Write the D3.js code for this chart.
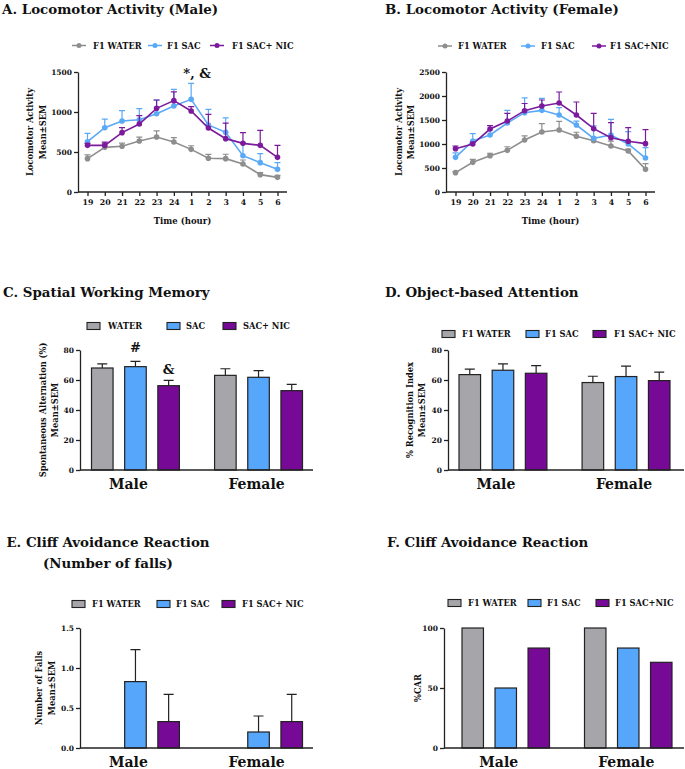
<!DOCTYPE html>
<html><head><meta charset="utf-8">
<script src="https://cdn.jsdelivr.net/npm/d3@7"></script>
<style>
body{margin:0;background:#fff}
svg{display:block}
text{font-family:"DejaVu Serif",serif;font-weight:bold;fill:#111}
</style>
</head><body>
<svg id="c" width="685" height="769"></svg>
<script>
// ---------------- DATA ----------------
const hours = ["19","20","21","22","23","24","1","2","3","4","5","6"];
const maleTicks = [0,500,1000,1500];
const femaleTicks = [0,500,1000,1500,2000,2500];

const maleWater    = [417,558,571,637,688,625,533,421,417,350,217,183];
const maleWaterErr = [46,50,40,50,75,55,45,50,55,50,25,25];
const maleSac      = [629,804,888,904,979,1075,1158,838,746,454,367,283];
const maleSacErr   = [104,108,129,137,170,208,200,196,180,160,112,83];
const maleNic      = [583,583,742,850,1046,1142,1013,800,667,608,583,433];
const maleNicErr   = [25,40,62,104,104,110,55,170,195,133,188,150];

const femWater     = [403,618,757,868,1083,1250,1292,1160,1069,958,854,472];
const femWaterErr  = [20,60,50,75,85,175,180,85,70,100,40,120];
const femSac       = [722,1062,1187,1437,1653,1701,1604,1396,1118,1187,1000,708];
const femSacErr    = [95,153,110,264,306,250,153,80,260,326,257,215];
const femNic       = [903,1000,1312,1479,1694,1792,1854,1604,1319,1132,1056,1007];
const femNicErr    = [55,40,70,160,150,125,229,271,320,312,285,292];

const sexes = ["Male","Female"];

const swmTicks = [0,20,40,60,80];
const swmWater = [68.0,63.1], swmWaterErr = [2.7,4.4];
const swmSac   = [68.9,61.8], swmSacErr   = [3.5,4.4];
const swmNic   = [56.2,52.9], swmNicErr   = [3.6,4.2];

const obaTicks = [0,20,40,60,80];
const obaWater = [63.6,58.3], obaWaterErr = [3.6,4.2];
const obaSac   = [66.5,62.3], obaSacErr   = [4.2,6.9];
const obaNic   = [64.5,59.6], obaNicErr   = [5.1,5.6];

const fallTicks = [0,0.5,1.0,1.5];
const fallWater = [0,0],       fallWaterErr = [0,0];
const fallSac   = [0.83,0.20], fallSacErr   = [0.40,0.20];
const fallNic   = [0.33,0.33], fallNicErr   = [0.34,0.34];

const carTicks = [0,50,100];
const carWater = [100,100];
const carSac   = [50,83.3];
const carNic   = [83.3,71.4];

// ---------------- STYLE ----------------
const LC = {water:"#8e8e8e", sac:"#5aa9f6", nic:"#7b1a9c"};
const BC = {water:"#a6a6aa", sac:"#56a6fb", nic:"#760a96"};
const INK = "#222";

const svg = d3.select("#c");

function title(lines, x, y, anchor){
  lines.forEach((t,i)=>{
    svg.append("text").attr("x",x).attr("y",y+i*21).attr("text-anchor",anchor||"start")
      .style("font-size","13.4px").text(t);
  });
}
function yTitle(lines, xs, cy){
  lines.forEach((t,i)=>{
    svg.append("text").attr("transform",`translate(${xs[i]},${cy}) rotate(-90)`)
      .attr("text-anchor","middle").attr("dy","0.35em").style("font-size","8.3px").text(t);
  });
}
function styleAxis(g){
  g.selectAll(".domain").attr("stroke",INK).attr("stroke-width",1.3);
  g.selectAll(".tick line").attr("stroke",INK).attr("stroke-width",1.3);
  g.selectAll(".tick text").style("font-family","DejaVu Serif").style("font-weight","bold")
    .style("font-size","7.5px").attr("fill","#111");
}
function lineLegend(items, y){
  items.forEach(it=>{
    svg.append("line").attr("x1",it.x).attr("x2",it.x+14).attr("y1",y).attr("y2",y)
      .attr("stroke",it.color).attr("stroke-width",1.5);
    svg.append("circle").attr("cx",it.x+7).attr("cy",y).attr("r",2.5).attr("fill",it.color);
    svg.append("text").attr("x",it.tx).attr("y",y+3).style("font-size","8.3px").text(it.label);
  });
}
function boxLegend(items, y){
  items.forEach(it=>{
    svg.append("rect").attr("x",it.x).attr("y",y-3.5).attr("width",13).attr("height",7)
      .attr("fill",it.color).attr("stroke",INK).attr("stroke-width",1.1);
    svg.append("text").attr("x",it.tx).attr("y",y+3).style("font-size","8.3px").text(it.label);
  });
}

function linePanel(p){
  const g = svg.append("g");
  const x = d3.scalePoint().domain(hours).range([p.left,p.right]).padding(0.55);
  const y = d3.scaleLinear().domain([0,p.yMax]).range([p.bottom,p.top]);
  const ya = g.append("g").attr("transform",`translate(${p.left},0)`)
    .call(d3.axisLeft(y).tickValues(p.ticks).tickFormat(d3.format("d")).tickSize(4).tickSizeOuter(0).tickPadding(2));
  styleAxis(ya);
  const xa = g.append("g").attr("transform",`translate(0,${p.bottom})`)
    .call(d3.axisBottom(x).tickSize(4).tickSizeOuter(0).tickPadding(3));
  xa.select(".domain").attr("d",`M${p.left},0H${p.right}`);
  styleAxis(xa);
  xa.selectAll(".tick text").style("font-size","7.8px");
  p.series.forEach(s=>{
    g.append("g").selectAll("path").data(s.vals).enter().append("path")
      .attr("d",(d,i)=>{const cx=x(hours[i]), t=y(d+s.errs[i]); return `M${cx},${y(d)}V${t}M${cx-3},${t}h6`;})
      .attr("stroke",s.color).attr("stroke-width",1.2).attr("fill","none");
    g.append("path").datum(s.vals)
      .attr("d",d3.line().x((d,i)=>x(hours[i])).y(d=>y(d)))
      .attr("stroke",s.color).attr("stroke-width",1.6).attr("fill","none");
    g.append("g").selectAll("circle").data(s.vals).enter().append("circle")
      .attr("cx",(d,i)=>x(hours[i])).attr("cy",d=>y(d)).attr("r",2.8).attr("fill",s.color);
  });
  svg.append("text").attr("x",(p.left+p.right)/2).attr("y",p.bottom+32).attr("text-anchor","middle")
    .style("font-size","8.5px").text("Time (hour)");
  return {x,y};
}

function barPanel(p){
  const g = svg.append("g");
  const y = d3.scaleLinear().domain([0,p.yMax]).range([p.bottom,p.top]);
  const x0 = d3.scaleBand().domain(sexes).range(p.groupRange).paddingInner(0.2857);
  const keys = p.series.map(s=>s.key);
  const x1 = d3.scaleBand().domain(keys).range([0,x0.bandwidth()]).paddingInner(0.35);
  p.series.forEach(s=>{
    sexes.forEach((sex,i)=>{
      const v = s.vals[i];
      const bx = x0(sex)+x1(s.key);
      if (s.errs && s.errs[i]>0){
        const cx = bx + x1.bandwidth()/2, t = y(v+s.errs[i]);
        g.append("path").attr("d",`M${cx},${y(v)}V${t}M${cx-5},${t}h10`)
          .attr("stroke",INK).attr("stroke-width",1.2).attr("fill","none");
      }
      if (v>0){
        g.append("rect").attr("x",bx).attr("y",y(v)).attr("width",x1.bandwidth())
          .attr("height",y(0)-y(v)).attr("fill",s.color).attr("stroke",INK).attr("stroke-width",1.2);
      }
    });
  });
  const ya = g.append("g").attr("transform",`translate(${p.left},0)`)
    .call(d3.axisLeft(y).tickValues(p.ticks).tickFormat(p.fmt||d3.format("d")).tickSize(4).tickSizeOuter(0).tickPadding(2));
  styleAxis(ya);
  g.append("line").attr("x1",p.left).attr("x2",p.right).attr("y1",p.bottom).attr("y2",p.bottom)
    .attr("stroke",INK).attr("stroke-width",1.3);
  const off = [-7,-2];
  sexes.forEach((sex,i)=>{
    svg.append("text").attr("x",x0(sex)+x0.bandwidth()/2+off[i]).attr("y",p.bottom+18.5)
      .attr("text-anchor","middle").style("font-size","14px").text(sex);
  });
  return {x0,x1,y};
}

// ---------------- PANEL A ----------------
title(["A. Locomotor Activity (Male)"], 2, 13.5);
lineLegend([
  {x:72, tx:93, label:"F1 WATER", color:LC.water},
  {x:148, tx:167, label:"F1 SAC", color:LC.sac},
  {x:210, tx:232, label:"F1 SAC+ NIC", color:LC.nic}], 45.5);
const A = linePanel({left:78, right:287, top:72, bottom:192, yMax:1500, ticks:maleTicks,
  series:[{vals:maleWater,errs:maleWaterErr,color:LC.water},
          {vals:maleSac,errs:maleSacErr,color:LC.sac},
          {vals:maleNic,errs:maleNicErr,color:LC.nic}]});
yTitle(["Locomotor Activity","Mean±SEM"],[30,43],132);
svg.append("text").attr("x",A.x("1")+6).attr("y",78).attr("text-anchor","middle")
  .style("font-size","13px").text("*, &");

// ---------------- PANEL B ----------------
title(["B. Locomotor Activity (Female)"], 385, 13.5);
lineLegend([
  {x:438, tx:458, label:"F1 WATER", color:LC.water},
  {x:521, tx:541, label:"F1 SAC", color:LC.sac},
  {x:592, tx:610, label:"F1 SAC+NIC", color:LC.nic}], 46);
linePanel({left:446, right:655, top:72, bottom:192, yMax:2500, ticks:femaleTicks,
  series:[{vals:femWater,errs:femWaterErr,color:LC.water},
          {vals:femSac,errs:femSacErr,color:LC.sac},
          {vals:femNic,errs:femNicErr,color:LC.nic}]});
yTitle(["Locomotor Activity","Mean±SEM"],[399,411],132);

// ---------------- PANEL C ----------------
title(["C. Spatial Working Memory"], 3, 297);
boxLegend([
  {x:87, tx:108, label:"WATER", color:BC.water},
  {x:167, tx:186, label:"SAC", color:BC.sac},
  {x:223, tx:243, label:"SAC+ NIC", color:BC.nic}], 326);
const C = barPanel({left:80, right:313, top:350, bottom:470, yMax:80, ticks:swmTicks,
  groupRange:[91.5,302.5],
  series:[{key:"w",vals:swmWater,errs:swmWaterErr,color:BC.water},
          {key:"s",vals:swmSac,errs:swmSacErr,color:BC.sac},
          {key:"n",vals:swmNic,errs:swmNicErr,color:BC.nic}]});
yTitle(["Spontaneous Alternation (%)","Mean±SEM"],[43,55],410);
svg.append("text").attr("x",C.x0("Male")+C.x1("s")+C.x1.bandwidth()/2)
  .attr("y",C.y(swmSac[0]+swmSacErr[0])-9).attr("text-anchor","middle").style("font-size","13px").text("#");
svg.append("text").attr("x",C.x0("Male")+C.x1("n")+C.x1.bandwidth()/2)
  .attr("y",C.y(swmNic[0]+swmNicErr[0])-6).attr("text-anchor","middle").style("font-size","13px").text("&");

// ---------------- PANEL D ----------------
title(["D. Object-based Attention"], 385, 297);
boxLegend([
  {x:442, tx:462, label:"F1 WATER", color:BC.water},
  {x:526, tx:545, label:"F1 SAC", color:BC.sac},
  {x:593, tx:614, label:"F1 SAC+ NIC", color:BC.nic}], 334);
barPanel({left:448, right:684, top:350, bottom:470, yMax:80, ticks:obaTicks,
  groupRange:[459,670],
  series:[{key:"w",vals:obaWater,errs:obaWaterErr,color:BC.water},
          {key:"s",vals:obaSac,errs:obaSacErr,color:BC.sac},
          {key:"n",vals:obaNic,errs:obaNicErr,color:BC.nic}]});
yTitle(["% Recognition Index","Mean±SEM"],[410,422],410);

// ---------------- PANEL E ----------------
title(["E. Cliff Avoidance Reaction","(Number of falls)"], 108, 547, "middle");
boxLegend([
  {x:72, tx:92, label:"F1 WATER", color:BC.water},
  {x:157, tx:176, label:"F1 SAC", color:BC.sac},
  {x:222, tx:242, label:"F1 SAC+ NIC", color:BC.nic}], 604);
barPanel({left:80, right:313, top:628, bottom:748, yMax:1.5, ticks:fallTicks, fmt:d3.format(".1f"),
  groupRange:[91.5,302.5],
  series:[{key:"w",vals:fallWater,errs:fallWaterErr,color:BC.water},
          {key:"s",vals:fallSac,errs:fallSacErr,color:BC.sac},
          {key:"n",vals:fallNic,errs:fallNicErr,color:BC.nic}]});
yTitle(["Number of Falls","Mean±SEM"],[39,52],688);

// ---------------- PANEL F ----------------
title(["F. Cliff Avoidance Reaction"], 387, 547);
boxLegend([
  {x:448, tx:468, label:"F1 WATER", color:BC.water},
  {x:528, tx:547, label:"F1 SAC", color:BC.sac},
  {x:596, tx:615, label:"F1 SAC+NIC", color:BC.nic}], 603);
barPanel({left:444, right:684, top:628, bottom:748, yMax:100, ticks:carTicks,
  groupRange:[462,672],
  series:[{key:"w",vals:carWater,color:BC.water},
          {key:"s",vals:carSac,color:BC.sac},
          {key:"n",vals:carNic,color:BC.nic}]});
yTitle(["%CAR"],[418],688);
</script>
</body></html>
